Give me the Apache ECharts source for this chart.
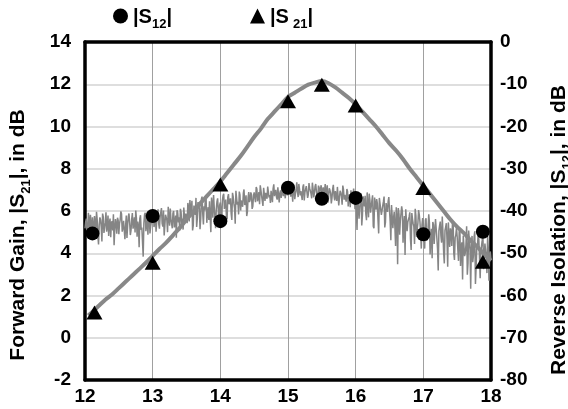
<!DOCTYPE html>
<html>
<head>
<meta charset="utf-8">
<script src="https://cdn.jsdelivr.net/npm/echarts@6/dist/echarts.min.js"></script>
<style>
html,body{margin:0;padding:0;background:#fff;}
#chart{width:568px;height:409px;}
</style>
</head>
<body>
<div id="chart"></div>
<script>
// ---- data ----
var xTicks = [12, 13, 14, 15, 16, 17, 18];
var leftTicks = [-2, 0, 2, 4, 6, 8, 10, 12, 14];
var rightTicks = [-80, -70, -60, -50, -40, -30, -20, -10, 0];

// |S21| measured trace (forward gain, dB, left axis)
var s21Freq = [12.05,12.1,12.2,12.3,12.4,12.5,12.6,12.7,12.8,12.9,13.0,13.1,13.2,13.3,13.4,13.5,13.6,13.7,13.8,13.9,
  14.0,14.1,14.2,14.3,14.4,14.5,14.6,14.7,14.8,14.9,15.0,15.1,15.2,15.3,15.4,15.5,15.6,15.7,15.8,15.9,
  16.0,16.1,16.2,16.3,16.4,16.5,16.6,16.7,16.8,16.9,17.0,17.1,17.2,17.3,17.4,17.5,17.6,17.7,17.8,17.9,18.0];
var s21Trace = [1.05,1.2,1.5,1.8,2.05,2.35,2.65,2.95,3.25,3.55,3.88,4.2,4.5,4.85,5.2,5.6,5.95,6.35,6.7,7.05,
  7.4,7.8,8.2,8.6,9.05,9.5,9.9,10.35,10.7,11.05,11.4,11.6,11.8,11.98,12.08,12.15,12.05,11.85,11.6,11.35,
  11.05,10.7,10.35,10.0,9.6,9.2,8.85,8.45,8.0,7.6,7.2,6.8,6.4,6.0,5.6,5.25,4.95,4.6,4.3,3.95,3.65];

// |S12| measured trace (reverse isolation, dB, right axis)
// sweep points at 12.00, 12.02, ... 18.00
var s12SweepStart = 12.0;
var s12SweepStep = 0.02;
var s12Trace = [
  -44.1,-41.8,-45.6,-42.3,-40.9,-46.8,-43.5,-41.2,-44.7,-42.0,-47.9,-41.5,-43.8,-40.6,-45.2,-42.7,-44.9,-41.1,-43.0,-46.2,-42.4,-40.8,-44.3,-43.1,-41.6,
  -45.5,-42.1,-40.7,-44.0,-41.9,-43.6,-46.4,-41.3,-42.8,-44.6,-40.5,-43.2,-45.1,-41.7,-42.5,-48.6,-41.0,-43.9,-50.8,-40.9,-44.8,-42.0,-41.4,-45.3,-42.6,
  -41.2,-43.8,-40.1,-42.5,-39.6,-44.2,-41.0,-42.9,-39.9,-43.4,-40.7,-45.0,-41.6,-39.4,-42.3,-40.5,-43.9,-41.1,-39.8,-42.7,-44.6,-40.3,-41.8,-39.2,-42.0,
  -40.2,-38.1,-42.5,-39.3,-37.6,-43.4,-39.8,-36.9,-41.7,-38.4,-44.3,-37.2,-40.6,-38.9,-36.5,-42.8,-39.1,-37.7,-45.0,-38.3,-36.2,-41.4,-39.6,-37.0,-43.1,
  -38.0,-42.7,-36.4,-39.5,-37.3,-41.9,-36.0,-38.8,-40.6,-35.7,-38.2,-43.0,-36.9,-37.8,-35.4,-39.9,-37.1,-35.8,-38.6,-36.3,-40.2,-35.5,-37.4,-36.1,-38.9,
  -35.6,-37.9,-34.8,-36.7,-38.4,-35.1,-36.2,-34.5,-37.6,-35.9,-34.2,-36.8,-38.1,-35.3,-34.7,-36.5,-35.0,-37.3,-34.1,-35.8,-36.9,-34.6,-35.4,-37.0,-34.9,
  -35.2,-34.0,-36.6,-35.7,-33.8,-37.2,-34.9,-35.5,-33.6,-36.3,-35.0,-34.3,-37.5,-35.8,-33.9,-36.1,-34.6,-35.9,-33.3,-36.8,-34.2,-35.4,-37.1,-34.5,-35.6,
  -36.0,-34.4,-37.3,-35.5,-33.9,-36.7,-35.1,-38.2,-34.8,-36.4,-35.3,-37.6,-34.1,-36.9,-35.7,-38.5,-34.9,-36.2,-37.8,-35.4,-36.6,-39.1,-35.0,-37.4,-36.3,
  -37.2,-44.5,-36.1,-39.3,-35.8,-41.0,-37.9,-36.4,-42.2,-38.6,-35.9,-40.4,-37.5,-43.6,-36.8,-39.7,-38.2,-45.3,-37.0,-40.9,-38.8,-36.6,-42.7,-39.4,-37.7,
  -39.8,-46.9,-38.4,-41.6,-43.9,-39.1,-52.6,-40.7,-42.3,-38.9,-47.5,-41.2,-39.6,-44.8,-42.0,-40.3,-49.2,-41.9,-43.7,-39.5,-46.1,-42.8,-40.9,-45.4,-43.3,
  -43.0,-48.9,-41.7,-45.5,-40.8,-50.3,-44.2,-42.6,-47.8,-41.9,-46.4,-54.1,-43.5,-45.9,-41.3,-49.7,-44.6,-42.9,-53.2,-46.0,-44.1,-48.3,-42.4,-51.6,-45.7,
  -46.1,-51.8,-44.3,-48.7,-56.2,-45.5,-49.9,-43.6,-52.4,-47.2,-58.4,-45.9,-50.6,-44.8,-53.5,-48.1,-46.7,-55.9,-49.4,-45.2,-51.3,-47.6,-54.7,-48.8,-50.2,
  -51.5
];
// in-between sweep points at 12.01, 12.03, ... 17.99
var s12TraceMid = [
  -42.6,-45.0,-40.4,-44.4,-43.0,-41.5,-46.0,-42.8,-40.2,-45.8,-43.3,-42.1,-47.2,-41.4,-44.0,-40.3,-43.7,-45.9,-41.8,-42.9,-44.6,-48.1,-41.9,-45.4,-42.2,
  -43.0,-40.1,-44.9,-42.3,-46.7,-41.1,-43.4,-40.6,-45.7,-42.0,-44.2,-41.5,-39.9,-46.1,-43.6,-41.8,-44.5,-47.3,-42.9,-40.4,-43.1,-45.6,-40.8,-43.7,-41.9,
  -39.7,-42.6,-44.9,-40.8,-43.1,-41.4,-39.3,-43.7,-45.8,-40.9,-42.2,-39.0,-43.5,-41.9,-44.1,-40.0,-42.8,-46.3,-40.4,-41.5,-39.5,-43.0,-44.4,-41.2,-40.6,
  -42.9,-39.0,-37.4,-41.1,-44.6,-38.7,-40.9,-43.8,-37.9,-39.4,-41.9,-36.6,-43.2,-39.9,-37.3,-40.5,-42.1,-38.0,-36.8,-41.6,-39.2,-44.1,-37.8,-40.0,-38.6,
  -40.1,-37.6,-35.9,-39.8,-41.4,-36.7,-38.4,-37.0,-42.1,-36.6,-39.3,-35.2,-38.5,-40.8,-36.2,-37.5,-39.0,-34.9,-38.0,-41.2,-36.8,-37.9,-35.6,-39.5,-36.4,
  -36.9,-34.3,-37.7,-35.5,-33.9,-36.4,-38.8,-34.9,-35.7,-37.1,-34.0,-36.2,-35.2,-37.9,-33.7,-35.6,-36.7,-34.4,-38.0,-35.1,-34.2,-36.5,-35.9,-33.8,-36.3,
  -36.1,-33.5,-35.1,-37.8,-34.4,-35.9,-33.2,-36.7,-34.8,-35.3,-37.4,-33.7,-35.6,-34.1,-36.9,-33.4,-35.0,-37.0,-34.7,-35.8,-33.6,-36.4,-34.0,-35.7,-33.9,
  -35.3,-37.0,-33.6,-36.1,-38.0,-34.6,-35.8,-36.9,-33.8,-37.5,-35.6,-34.3,-38.7,-35.2,-36.5,-34.0,-37.3,-35.9,-34.8,-38.9,-36.0,-35.1,-37.7,-34.7,-39.6,
  -39.9,-36.2,-41.8,-37.1,-43.4,-36.5,-38.9,-40.7,-35.6,-41.5,-37.4,-39.0,-36.3,-44.1,-38.5,-37.2,-42.0,-36.9,-39.6,-41.1,-37.8,-43.9,-38.1,-40.2,-36.7,
  -42.5,-38.6,-44.1,-40.2,-48.3,-41.5,-39.3,-45.6,-42.0,-40.1,-43.5,-50.4,-39.9,-42.7,-41.4,-46.6,-40.5,-43.0,-47.8,-41.1,-44.3,-39.8,-42.6,-48.9,-41.7,
  -45.9,-42.2,-47.1,-44.0,-42.8,-46.6,-51.2,-43.3,-45.0,-41.6,-49.0,-44.7,-42.5,-47.5,-45.3,-52.4,-43.8,-46.8,-42.7,-48.5,-44.9,-43.1,-50.0,-46.3,-43.9,
  -49.1,-44.9,-53.0,-47.4,-45.8,-50.7,-48.0,-55.1,-44.6,-49.3,-47.9,-52.1,-46.2,-57.3,-48.6,-45.6,-51.0,-49.8,-46.9,-53.8,-47.7,-50.9,-45.9,-56.5,-49.6
];

// discrete markers
var s12MarkFreq = [12.11, 13, 14, 15, 15.5, 16, 17, 17.88];
var s12MarkVal  = [-45.3, -41.2, -42.4, -34.5, -37.1, -36.9, -45.5, -44.9];
var s21MarkFreq = [12.14, 13, 14, 15, 15.5, 16, 17, 17.88];
var s21MarkVal  = [1.2, 3.55, 7.25, 11.19, 11.98, 11.0, 7.09, 3.6];

// ---- build ----
function pairs(xs, ys) { return xs.map(function (x, i) { return [x, ys[i]]; }); }
var s12Data = [];
for (var i = 0; i < s12Trace.length; i++) {
  s12Data.push([+(s12SweepStart + i * s12SweepStep).toFixed(2), s12Trace[i]]);
  if (i < s12TraceMid.length) s12Data.push([+(s12SweepStart + i * s12SweepStep + s12SweepStep / 2).toFixed(3), s12TraceMid[i]]);
}

var FONT = 'Liberation Sans, Arial, sans-serif';
var chart = echarts.init(document.getElementById('chart'), null, { renderer: 'canvas' });

var legRich = {
  a: { fontFamily: FONT, fontWeight: 'bold', fontSize: 20, color: '#000', verticalAlign: 'bottom', lineHeight: 22 },
  b: { fontFamily: FONT, fontWeight: 'bold', fontSize: 13, color: '#000', verticalAlign: 'bottom', lineHeight: 22, padding: [0, 0, -4, 0] },
  c: { fontFamily: FONT, fontWeight: 'bold', fontSize: 13, color: '#000', verticalAlign: 'bottom', lineHeight: 22, padding: [0, 0, -4, 4] }
};
var titleRich = {
  a: { fontFamily: FONT, fontWeight: 'bold', fontSize: 21, fill: '#000', verticalAlign: 'bottom', lineHeight: 23 },
  b: { fontFamily: FONT, fontWeight: 'bold', fontSize: 13, fill: '#000', verticalAlign: 'bottom', lineHeight: 23, padding: [0, 0, -4, 0] }
};
var borderLine = { show: true, onZero: false, lineStyle: { color: '#000', width: 3.5 } };

chart.setOption({
  animation: false,
  backgroundColor: '#fff',
  grid: { left: 85, right: 77, top: 42, bottom: 29 },
  legend: {
    data: ['S12', 'S21'],
    left: 113, top: 7, padding: 0,
    itemWidth: 15, itemHeight: 15, itemGap: 78,
    formatter: function (n) { return n === 'S12' ? '{a||S}{b|12}{a||}' : '{a||S}{c|21}{a||}'; },
    textStyle: { rich: legRich }
  },
  xAxis: [{
    type: 'value', min: xTicks[0], max: xTicks[xTicks.length - 1], interval: 1,
    axisLine: borderLine, axisTick: { show: false },
    axisLabel: { fontFamily: FONT, fontWeight: 'bold', fontSize: 19, color: '#000', margin: 7 },
    splitLine: { show: true, lineStyle: { color: '#a0a0a0', width: 1 } }
  }, {
    type: 'value', position: 'top', min: xTicks[0], max: xTicks[xTicks.length - 1], interval: 1,
    axisLine: borderLine, axisTick: { show: false }, axisLabel: { show: false }, splitLine: { show: false }
  }],
  yAxis: [{
    type: 'value', min: leftTicks[0], max: leftTicks[leftTicks.length - 1], interval: 2,
    axisLine: borderLine, axisTick: { show: false },
    axisLabel: { fontFamily: FONT, fontWeight: 'bold', fontSize: 19, color: '#000', margin: 14 },
    splitLine: { show: true, lineStyle: { color: '#dedede', width: 2 } }
  }, {
    type: 'value', position: 'right', min: rightTicks[0], max: rightTicks[rightTicks.length - 1], interval: 10,
    axisLine: borderLine, axisTick: { show: false },
    axisLabel: { fontFamily: FONT, fontWeight: 'bold', fontSize: 19, color: '#000', margin: 9 },
    splitLine: { show: false }
  }],
  graphic: [{
    type: 'text', x: 17, y: 235, rotation: Math.PI / 2,
    style: { text: '{a|Forward Gain, |S}{b|21}{a||, in dB}', rich: titleRich, align: 'center', verticalAlign: 'middle' }
  }, {
    type: 'text', x: 558, y: 230, rotation: Math.PI / 2,
    style: { text: '{a|Reverse Isolation, |S}{b|12}{a||, in dB}', rich: titleRich, align: 'center', verticalAlign: 'middle' }
  }],
  series: [{
    name: 'S12 trace', type: 'line', yAxisIndex: 1, data: s12Data, showSymbol: false, silent: true,
    lineStyle: { color: '#858585', width: 1.5 }, z: 2
  }, {
    name: 'S21 trace', type: 'line', yAxisIndex: 0, data: pairs(s21Freq, s21Trace), showSymbol: false, silent: true,
    smooth: 0.3, lineStyle: { color: '#888888', width: 4 }, z: 3
  }, {
    name: 'S12', type: 'scatter', yAxisIndex: 1, data: pairs(s12MarkFreq, s12MarkVal),
    symbol: 'circle', symbolSize: 14, itemStyle: { color: '#000', opacity: 1 }, z: 5
  }, {
    name: 'S21', type: 'scatter', yAxisIndex: 0, data: pairs(s21MarkFreq, s21MarkVal),
    symbol: 'triangle', symbolSize: [16, 14], itemStyle: { color: '#000', opacity: 1 }, z: 5
  }]
});
</script>
</body>
</html>
